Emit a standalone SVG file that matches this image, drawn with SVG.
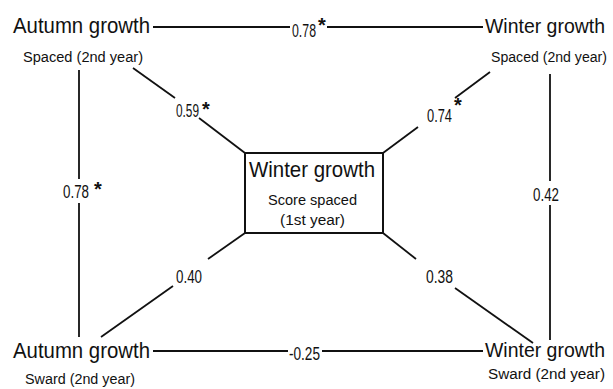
<svg xmlns="http://www.w3.org/2000/svg" width="613" height="389" viewBox="0 0 613 389">
<style>
  .title{font-family:"Liberation Sans",Arial,sans-serif;font-size:22px;fill:#111}
  .title.r{font-size:21px}
  .sub{font-family:"Liberation Sans",Arial,sans-serif;font-size:14px;fill:#111}
  .num{font-family:"Liberation Sans",Arial,sans-serif;font-size:18px;fill:#111}
  .star{font-family:"Liberation Sans",Arial,sans-serif;font-size:20px;font-weight:bold;fill:#111}
  .edge{stroke:#111;stroke-width:1.8;fill:none;stroke-linecap:butt}
  .box{stroke:#111;stroke-width:2;fill:#fff}
</style>
<rect width="613" height="389" fill="#fff"/>
<g id="connectors">
  <line class="edge" x1="153" y1="27" x2="290" y2="27"/>
  <line class="edge" x1="327" y1="27" x2="483" y2="27"/>
  <text class="num" x="292" y="37" textLength="24" lengthAdjust="spacingAndGlyphs">0.78</text>
  <text class="star" x="318" y="32">*</text>

  <line class="edge" x1="153" y1="351" x2="288" y2="351"/>
  <line class="edge" x1="322" y1="351" x2="483" y2="351"/>
  <text class="num" x="289" y="360" textLength="31" lengthAdjust="spacingAndGlyphs">-0.25</text>

  <line class="edge" x1="79" y1="70" x2="79" y2="179"/>
  <line class="edge" x1="79" y1="203" x2="79" y2="337"/>
  <text class="num" x="63" y="198" textLength="26" lengthAdjust="spacingAndGlyphs">0.78</text>
  <text class="star" x="94" y="196">*</text>

  <line class="edge" x1="550" y1="74" x2="550" y2="181"/>
  <line class="edge" x1="550" y1="205" x2="550" y2="340"/>
  <text class="num" x="533" y="201" textLength="26" lengthAdjust="spacingAndGlyphs">0.42</text>

  <line class="edge" x1="133" y1="68" x2="175" y2="98"/>
  <line class="edge" x1="199" y1="118" x2="245" y2="153"/>
  <text class="num" x="176" y="117" textLength="23" lengthAdjust="spacingAndGlyphs">0.59</text>
  <text class="star" x="202" y="116">*</text>

  <line class="edge" x1="383" y1="153" x2="418" y2="127"/>
  <line class="edge" x1="455" y1="98" x2="490" y2="72"/>
  <text class="num" x="427" y="122" textLength="25" lengthAdjust="spacingAndGlyphs">0.74</text>
  <text class="star" x="454" y="112">*</text>

  <line class="edge" x1="245" y1="233" x2="208" y2="259"/>
  <line class="edge" x1="173" y1="286" x2="101" y2="337"/>
  <text class="num" x="176" y="283" textLength="26" lengthAdjust="spacingAndGlyphs">0.40</text>

  <line class="edge" x1="383" y1="233" x2="416" y2="259"/>
  <line class="edge" x1="455" y1="288" x2="533" y2="343"/>
  <text class="num" x="426" y="283" textLength="27" lengthAdjust="spacingAndGlyphs">0.38</text>
</g>
<g id="n-autumn-spaced">
  <text class="title" x="13" y="33" textLength="137" lengthAdjust="spacingAndGlyphs">Autumn growth</text>
  <text class="sub" x="23" y="62" textLength="120" lengthAdjust="spacingAndGlyphs">Spaced (2nd year)</text>
</g>
<g id="n-winter-spaced">
  <text class="title r" x="485" y="33" textLength="120" lengthAdjust="spacingAndGlyphs">Winter growth</text>
  <text class="sub" x="491" y="62" textLength="116" lengthAdjust="spacingAndGlyphs">Spaced (2nd year)</text>
</g>
<g id="n-center">
  <rect class="box" x="245" y="153" width="138" height="80"/>
  <text class="title" x="249" y="177" textLength="126" lengthAdjust="spacingAndGlyphs">Winter growth</text>
  <text class="sub" x="268" y="205" textLength="89" lengthAdjust="spacingAndGlyphs">Score spaced</text>
  <text class="sub" x="280" y="225" textLength="65" lengthAdjust="spacingAndGlyphs">(1st year)</text>
</g>
<g id="n-autumn-sward">
  <text class="title" x="13" y="358" textLength="137" lengthAdjust="spacingAndGlyphs">Autumn growth</text>
  <text class="sub" x="25" y="384" textLength="110" lengthAdjust="spacingAndGlyphs">Sward (2nd year)</text>
</g>
<g id="n-winter-sward">
  <text class="title r" x="485" y="357" textLength="120" lengthAdjust="spacingAndGlyphs">Winter growth</text>
  <text class="sub" x="488" y="379" textLength="117" lengthAdjust="spacingAndGlyphs">Sward (2nd year)</text>
</g>
</svg>
